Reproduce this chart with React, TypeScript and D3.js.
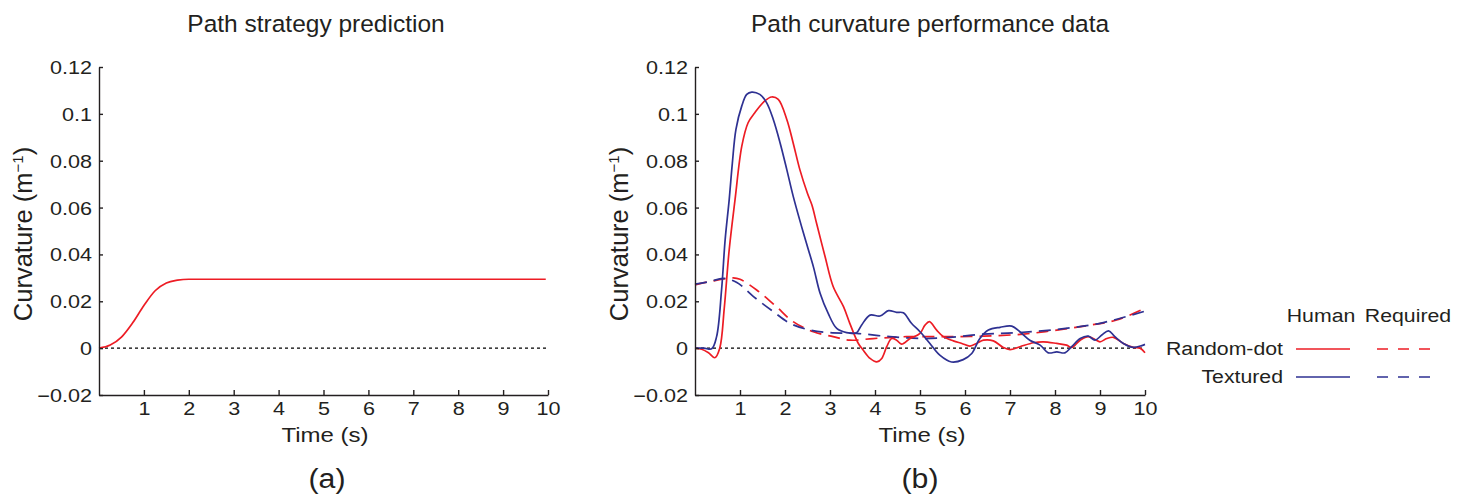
import React, { useEffect, useRef } from "react";
import * as d3 from "d3";

// tick values
const xTicks = [1, 2, 3, 4, 5, 6, 7, 8, 9, 10];
const yTicks = [-0.02, 0, 0.02, 0.04, 0.06, 0.08, 0.1, 0.12];
const yTickLabels = ["\u22120.02", "0", "0.02", "0.04", "0.06", "0.08", "0.1", "0.12"];

// (a) predicted path curvature
const predTime = [0, 0.25, 0.5, 0.75, 1.0, 1.25, 1.5, 1.75, 2.0, 2.5, 9.95];
const predCurv = [0, 0.0013, 0.0047, 0.0108, 0.0182, 0.0245, 0.0278, 0.029, 0.0294, 0.0294, 0.0294];

// (b) random-dot, human
const dotHumanTime = [0, 0.15, 0.3, 0.44, 0.55, 0.65, 0.76, 0.89, 1.04, 1.18, 1.33, 1.55, 1.7, 1.85, 2.04, 2.18, 2.33, 2.5, 2.6, 2.7, 2.89, 3.07, 3.3, 3.44, 3.63, 3.74, 3.89, 4.04, 4.15, 4.26, 4.37, 4.48, 4.59, 4.78, 5.0, 5.11, 5.21, 5.37, 5.52, 5.74, 5.93, 6.11, 6.26, 6.41, 6.63, 6.85, 7.0, 7.22, 7.52, 7.74, 8.04, 8.26, 8.37, 8.56, 8.74, 8.89, 9.0, 9.15, 9.3, 9.52, 9.74, 9.89, 10];
const dotHumanCurv = [0, -0.0005, -0.002, -0.0041, 0.0, 0.017, 0.042, 0.0634, 0.0862, 0.0962, 0.1005, 0.1055, 0.1072, 0.1062, 0.0976, 0.0877, 0.0762, 0.066, 0.061, 0.0534, 0.0391, 0.0263, 0.0177, 0.0106, 0.002, -0.0009, -0.0044, -0.0059, -0.0044, 0.0006, 0.0041, 0.0034, 0.0017, 0.0041, 0.0063, 0.0098, 0.0113, 0.0077, 0.0049, 0.0031, 0.002, 0.0009, 0.002, 0.0034, 0.0031, 0.0003, -0.0006, 0.0006, 0.0023, 0.0027, 0.002, 0.0013, 0.0003, 0.0034, 0.0049, 0.0037, 0.0027, 0.0041, 0.0046, 0.002, 0.0003, 0, -0.002];

// (b) textured, human
const texHumanTime = [0, 0.2, 0.37, 0.48, 0.59, 0.67, 0.76, 0.83, 0.91, 1.04, 1.15, 1.26, 1.44, 1.59, 1.74, 1.89, 2.04, 2.18, 2.41, 2.63, 2.78, 2.96, 3.15, 3.37, 3.59, 3.7, 3.89, 4.11, 4.3, 4.48, 4.63, 4.81, 5.0, 5.22, 5.44, 5.7, 5.96, 6.15, 6.33, 6.52, 6.78, 7.04, 7.22, 7.44, 7.67, 7.85, 8.04, 8.22, 8.37, 8.56, 8.74, 8.89, 9.04, 9.19, 9.33, 9.52, 9.74, 9.93, 10];
const texHumanCurv = [0, 0, -0.0003, 0.0049, 0.0248, 0.0463, 0.0634, 0.079, 0.0934, 0.1034, 0.1083, 0.1093, 0.1083, 0.1048, 0.0976, 0.0877, 0.0762, 0.065, 0.0491, 0.0348, 0.0234, 0.0148, 0.0084, 0.0066, 0.0066, 0.0098, 0.0141, 0.0137, 0.016, 0.0153, 0.0151, 0.0106, 0.007, 0.002, -0.003, -0.0059, -0.0049, -0.0023, 0.0041, 0.0077, 0.0089, 0.0094, 0.007, 0.0034, 0.0013, -0.002, -0.0016, -0.002, 0.0006, 0.0041, 0.0051, 0.0034, 0.0056, 0.0074, 0.0049, 0.002, 0.0003, 0.0011, 0.0016];

// (b) random-dot, required
const dotReqTime = [0, 0.4, 0.85, 1.0, 1.37, 1.81, 2.18, 2.63, 3.07, 3.44, 3.96, 4.7, 5.52, 6.41, 7.3, 8.04, 8.78, 9.37, 10];
const dotReqCurv = [0.027, 0.0287, 0.03, 0.0294, 0.0248, 0.0177, 0.0113, 0.007, 0.0049, 0.0034, 0.0041, 0.0049, 0.0049, 0.0051, 0.006, 0.0077, 0.0098, 0.012, 0.017];

// (b) textured, required
const texReqTime = [0, 0.33, 0.63, 0.93, 1.3, 1.74, 2.11, 2.56, 3.0, 3.59, 4.33, 5.07, 5.67, 6.41, 7.15, 8.04, 9.0, 10];
const texReqCurv = [0.0273, 0.0284, 0.0298, 0.028, 0.022, 0.0156, 0.0106, 0.0077, 0.0066, 0.0063, 0.0049, 0.0041, 0.0046, 0.006, 0.0066, 0.008, 0.0106, 0.0158];

const FONT = '"Liberation Sans", Arial, Helvetica, sans-serif';
const RED = "#ed1c24";
const BLUE = "#2e3192";
const INK = "#231f20";

const zip = (t: number[], k: number[]) => t.map((v, i) => [v, k[i]] as [number, number]);

export default function App() {
  const svgRef = useRef<SVGSVGElement>(null);

  useEffect(() => {
    const svg = d3.select(svgRef.current);
    svg.selectAll("*").remove();

    const y = d3.scaleLinear().domain([-0.02, 0.12]).range([395, 67]);

    const text = (sel: any, txt: string, x: number, yy: number, size: number, anchor: string, sx = 1) =>
      sel
        .append("text")
        .attr("transform", `translate(${x},${yy}) scale(${sx},1)`)
        .attr("text-anchor", anchor)
        .attr("font-family", FONT)
        .attr("font-size", size)
        .attr("fill", INK)
        .text(txt);

    const panels = [
      { left: 99, right: 548, title: "Path strategy prediction", titleX: 316, tag: "(a)", tagX: 327, timeX: 325 },
      { left: 695, right: 1145, title: "Path curvature performance data", titleX: 930, tag: "(b)", tagX: 920, timeX: 922 },
    ];

    panels.forEach((p, i) => {
      const x = d3.scaleLinear().domain([0, 10]).range([p.left, p.right]);
      const g = svg.append("g");
      const line = d3
        .line<[number, number]>()
        .x((d) => x(d[0]))
        .y((d) => y(d[1]))
        .curve(i === 0 ? d3.curveMonotoneX : d3.curveCatmullRom.alpha(0.5));

      //dotted zero line
      g.append("line")
        .attr("x1", x(0))
        .attr("x2", x(10))
        .attr("y1", y(0))
        .attr("y2", y(0))
        .attr("stroke", "#000")
        .attr("stroke-width", 1.3)
        .attr("stroke-dasharray", "3,3");

      const series =
        i === 0
          ? [{ d: zip(predTime, predCurv), c: RED, dash: null }]
          : [
              { d: zip(dotReqTime, dotReqCurv), c: RED, dash: "12,7" },
              { d: zip(texReqTime, texReqCurv), c: BLUE, dash: "12,7" },
              { d: zip(dotHumanTime, dotHumanCurv), c: RED, dash: null },
              { d: zip(texHumanTime, texHumanCurv), c: BLUE, dash: null },
            ];
      series.forEach((s) => {
        g.append("path")
          .attr("d", line(s.d))
          .attr("fill", "none")
          .attr("stroke", s.c)
          .attr("stroke-width", 1.7)
          .attr("stroke-dasharray", s.dash);
      });

      //axes
      const ay = g
        .append("g")
        .attr("transform", `translate(${p.left},0)`)
        .call(
          d3
            .axisLeft(y)
            .tickValues(yTicks)
            .tickSizeInner(-4)
            .tickSizeOuter(0)
            .tickFormat((_d, j) => yTickLabels[j])
        );
      ay.selectAll("text")
        .attr("x", 0)
        .attr("dy", "0.36em")
        .attr("transform", "translate(-7,0) scale(1.2,1)");

      const ax = g
        .append("g")
        .attr("transform", `translate(0,${y(-0.02)})`)
        .call(d3.axisBottom(x).tickValues(xTicks).tickSizeInner(-5).tickSizeOuter(0));
      ax.selectAll("text").attr("y", 0).attr("dy", null).attr("transform", "translate(0,20) scale(1.2,1)");

      [ay, ax].forEach((a) => {
        a.attr("font-family", FONT).attr("font-size", 18).attr("color", INK);
        a.selectAll("path,line").attr("stroke-width", 1.4);
        a.selectAll("text").attr("fill", INK);
      });

      //labels
      text(svg, p.title, p.titleX, 32, 24.5, "middle");
      text(svg, "Time (s)", p.timeX, 442, 20, "middle", 1.2);
      text(svg, p.tag, p.tagX, 488, 27.5, "middle", 1.1);

      const yl = svg
        .append("text")
        .attr("transform", `translate(${p.left - 67},234) rotate(-90)`)
        .attr("text-anchor", "middle")
        .attr("font-family", FONT)
        .attr("font-size", 25.5)
        .attr("fill", INK);
      yl.append("tspan").text("Curvature (m");
      yl.append("tspan").attr("dy", -9).attr("font-size", 15).text("\u22121");
      yl.append("tspan").attr("dy", 9).text(")");
    });

    //legend
    text(svg, "Human", 1321, 322, 19, "middle", 1.12);
    text(svg, "Required", 1408, 322, 19, "middle", 1.12);
    const rows = [
      { name: "Random-dot", c: RED, y: 349 },
      { name: "Textured", c: BLUE, y: 377 },
    ];
    rows.forEach((r) => {
      text(svg, r.name, 1283, r.y + 6, 19, "end", 1.12);
      svg.append("line").attr("x1", 1296).attr("x2", 1350).attr("y1", r.y).attr("y2", r.y).attr("stroke", r.c).attr("stroke-width", 1.7);
      svg
        .append("line")
        .attr("x1", 1377)
        .attr("x2", 1430)
        .attr("y1", r.y)
        .attr("y2", r.y)
        .attr("stroke", r.c)
        .attr("stroke-width", 1.7)
        .attr("stroke-dasharray", "11,10");
    });
  }, []);

  return (
    <svg
      ref={svgRef}
      width={1466}
      height={500}
      style={{ position: "absolute", left: 0, top: 0, background: "#fff" }}
    ></svg>
  );
}
